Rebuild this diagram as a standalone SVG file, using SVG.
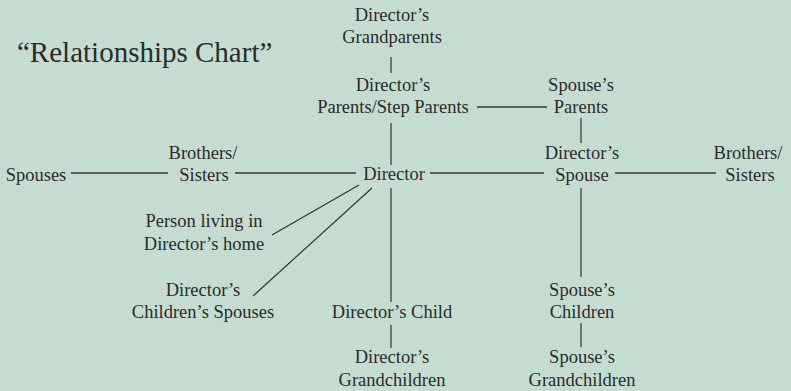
<svg xmlns="http://www.w3.org/2000/svg" width="791" height="391" viewBox="0 0 791 391">
<style>
text{font-family:"Liberation Serif","Times New Roman",serif;font-size:18.5px;fill:#2b2b2b;text-anchor:middle}
.title{font-size:29px;text-anchor:start}
.h{stroke:#333;stroke-width:1.7;fill:none}
.v{stroke:#333;stroke-width:1.2;fill:none}
</style>
<rect width="791" height="391" fill="#c5ddd1"/>
<text class="title" x="17" y="62">“Relationships Chart”</text>
<g id="connectors">
<line class="v" x1="391" y1="57" x2="391" y2="73"/>
<line class="v" x1="391" y1="123" x2="391" y2="165"/>
<line class="h" x1="477" y1="107" x2="547" y2="107"/>
<line class="v" x1="581" y1="118" x2="581" y2="143"/>
<line class="h" x1="430" y1="173" x2="544" y2="173"/>
<line class="h" x1="615" y1="173" x2="716" y2="173"/>
<line class="h" x1="71" y1="173" x2="168" y2="173"/>
<line class="h" x1="235" y1="173" x2="356" y2="173"/>
<line class="v" x1="391" y1="188" x2="391" y2="302"/>
<line class="v" x1="359" y1="185" x2="272" y2="235"/>
<line class="v" x1="372" y1="188" x2="253" y2="296"/>
<line class="v" x1="391" y1="325" x2="391" y2="348"/>
<line class="v" x1="581" y1="188" x2="581" y2="277"/>
<line class="v" x1="581" y1="323" x2="581" y2="347"/>
</g>
<g id="grandparents"><text x="392" y="21">Director’s</text><text x="392" y="43">Grandparents</text></g>
<g id="parents"><text x="393" y="91">Director’s</text><text x="393" y="113">Parents/Step Parents</text></g>
<g id="spouse-parents"><text x="581" y="91">Spouse’s</text><text x="581" y="113">Parents</text></g>
<g id="director"><text x="394" y="180">Director</text></g>
<g id="spouse"><text x="582" y="159">Director’s</text><text x="582" y="181">Spouse</text></g>
<g id="spouse-siblings"><text x="748" y="159">Brothers/</text><text x="750" y="181">Sisters</text></g>
<g id="siblings"><text x="203" y="159">Brothers/</text><text x="204" y="181">Sisters</text></g>
<g id="spouses"><text x="36" y="181">Spouses</text></g>
<g id="person-home"><text x="204" y="227">Person living in</text><text x="204" y="250">Director’s home</text></g>
<g id="children-spouses"><text x="203" y="296">Director’s</text><text x="203" y="318">Children’s Spouses</text></g>
<g id="child"><text x="392" y="318">Director’s Child</text></g>
<g id="grandchildren"><text x="392" y="363">Director’s</text><text x="392" y="386">Grandchildren</text></g>
<g id="spouse-children"><text x="582" y="296">Spouse’s</text><text x="582" y="318">Children</text></g>
<g id="spouse-grandchildren"><text x="582" y="363">Spouse’s</text><text x="582" y="386">Grandchildren</text></g>
</svg>
